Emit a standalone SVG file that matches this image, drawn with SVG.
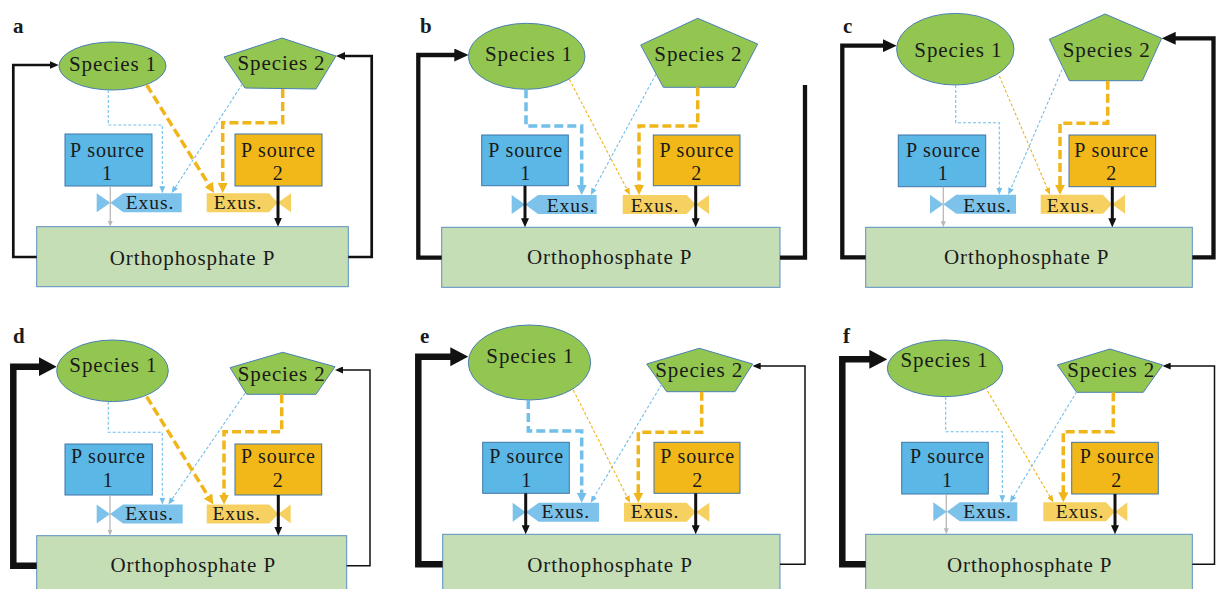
<svg xmlns="http://www.w3.org/2000/svg" width="1216" height="589" viewBox="0 0 1216 589">
<style>
.sp{fill:#92c650;stroke:#4a7fb5;stroke-width:1}
.ps1{fill:#5bb7e5;stroke:#3f76a8;stroke-width:1}
.ps2{fill:#f2b81a;stroke:#3f76a8;stroke-width:1}
.ex1{fill:#7dc2ea}
.ex2{fill:#f6d161}
.op{fill:#c6deb6;stroke:#5b8fc0;stroke-width:1}
text{font-family:'Liberation Serif','DejaVu Serif',serif;fill:#1a1a1a}
.t{font-size:21px;text-anchor:middle;letter-spacing:0.9px}
.t2{font-size:20px;text-anchor:middle;letter-spacing:0.9px}
.te{font-size:19.5px;text-anchor:middle;letter-spacing:0.9px}
.lbl{font-size:21px;font-weight:bold}
.c{fill:none}
.fb1{stroke:#111;stroke-width:2.7}
.fb2{stroke:#111;stroke-width:4.3}
.fb3{stroke:#111;stroke-width:6.5}
.fbt{stroke:#111;stroke-width:1.5}
.bk{stroke:#111;stroke-width:3}
.gr{stroke:#b8b8b8;stroke-width:1.3}
.bd{stroke:#72bfea;stroke-width:1.1;stroke-dasharray:3 2}
.yd{stroke:#f0b51b;stroke-width:1.1;stroke-dasharray:3 2}
.bD{stroke:#72bfea;stroke-width:3.5;stroke-dasharray:9 4}
.yD{stroke:#f0b51b;stroke-width:3.5;stroke-dasharray:9 4}
</style>
<defs>
<marker id="mS" viewBox="0 0 10 10" refX="2" refY="5" markerWidth="9" markerHeight="8" markerUnits="userSpaceOnUse" orient="auto" preserveAspectRatio="none"><path d="M0,0L10,5L0,10z" fill="#111"/></marker>
<marker id="mM" viewBox="0 0 10 10" refX="2" refY="5" markerWidth="14" markerHeight="13" markerUnits="userSpaceOnUse" orient="auto" preserveAspectRatio="none"><path d="M0,0L10,5L0,10z" fill="#111"/></marker>
<marker id="mL" viewBox="0 0 10 10" refX="2" refY="5" markerWidth="18" markerHeight="19" markerUnits="userSpaceOnUse" orient="auto" preserveAspectRatio="none"><path d="M0,0L10,5L0,10z" fill="#111"/></marker>
<marker id="mT" viewBox="0 0 10 10" refX="2" refY="5" markerWidth="8" markerHeight="7" markerUnits="userSpaceOnUse" orient="auto" preserveAspectRatio="none"><path d="M0,0L10,5L0,10z" fill="#111"/></marker>
<marker id="mG" viewBox="0 0 10 10" refX="2" refY="5" markerWidth="6" markerHeight="5" markerUnits="userSpaceOnUse" orient="auto" preserveAspectRatio="none"><path d="M0,0L10,5L0,10z" fill="#b8b8b8"/></marker>
<marker id="mb" viewBox="0 0 10 10" refX="2" refY="5" markerWidth="7" markerHeight="6" markerUnits="userSpaceOnUse" orient="auto" preserveAspectRatio="none"><path d="M0,0L10,5L0,10z" fill="#72bfea"/></marker>
<marker id="my" viewBox="0 0 10 10" refX="2" refY="5" markerWidth="7" markerHeight="6" markerUnits="userSpaceOnUse" orient="auto" preserveAspectRatio="none"><path d="M0,0L10,5L0,10z" fill="#f0b51b"/></marker>
<marker id="mB" viewBox="0 0 10 10" refX="2" refY="5" markerWidth="10" markerHeight="10" markerUnits="userSpaceOnUse" orient="auto" preserveAspectRatio="none"><path d="M0,0L10,5L0,10z" fill="#72bfea"/></marker>
<marker id="mY" viewBox="0 0 10 10" refX="2" refY="5" markerWidth="10" markerHeight="10" markerUnits="userSpaceOnUse" orient="auto" preserveAspectRatio="none"><path d="M0,0L10,5L0,10z" fill="#f0b51b"/></marker>
</defs>
<g font-family="Liberation Serif, DejaVu Serif, serif">

<!-- Panel a -->
<g id="a-label"><text class="lbl" x="13" y="33">a</text></g>
<g id="a-species1"><ellipse class="sp" cx="112.5" cy="66" rx="53.5" ry="24"/><text class="t" x="113" y="70.7">Species 1</text></g>
<g id="a-species2"><polygon class="sp" points="282,38 336,56 316,89 245,88 224,57"/><text class="t" x="281.5" y="70">Species 2</text></g>
<g id="a-psource1"><rect class="ps1" x="65" y="134" width="87" height="52"/><text class="t2" x="107.5" y="156.7">P source</text><text class="t2" x="107.5" y="180">1</text></g>
<g id="a-psource2"><rect class="ps2" x="235" y="134" width="87" height="52"/><text class="t2" x="278.3" y="156.7">P source</text><text class="t2" x="278.3" y="180">2</text></g>
<g id="a-exus1"><polygon class="ex1" points="96.7,193.3 110.3,202.8 96.7,212.3"/><polygon class="ex1" points="110.3,202.8 123.3,193.3 181.7,193.3 181.7,212.3 123.3,212.3"/><text class="te" x="150" y="209">Exus.</text></g>
<g id="a-exus2"><polygon class="ex2" points="206.7,193.3 269,193.3 277.7,202.8 269,212.3 206.7,212.3"/><polygon class="ex2" points="277.7,202.8 291,193.3 291,212.3"/><text class="te" x="238" y="209">Exus.</text></g>
<g id="a-ortho"><rect class="op" x="36.7" y="226.7" width="311.6" height="60"/><text class="t" x="192.5" y="265">Orthophosphate P</text></g>
<g id="a-connectors" class="c">
<path class="fb1" d="M36.7,257H13.3V65H51.5" marker-end="url(#mS)"/>
<path class="fb1" d="M348.3,257H371.7V56H343.2" marker-end="url(#mS)"/>
<path class="gr" d="M110.3,186V221.9" marker-end="url(#mG)"/>
<path class="bk" d="M278,186V219.5" marker-end="url(#mS)"/>
<path class="bd" d="M108.3,90V125H162.3V187.7" marker-end="url(#mb)"/>
<path class="bd" d="M242.3,84L174.7,188.3" marker-end="url(#mb)"/>
<path class="yD" d="M146.7,85L209.8,186.2" marker-end="url(#mY)"/>
<path class="yD" d="M282.7,89V122.7H222.7V185" marker-end="url(#mY)"/>
</g>

<!-- Panel b -->
<g id="b-label"><text class="lbl" x="420" y="33">b</text></g>
<g id="b-species1"><ellipse class="sp" cx="526.7" cy="56.3" rx="58.3" ry="33"/><text class="t" x="529" y="60.7">Species 1</text></g>
<g id="b-species2"><polygon class="sp" points="697.7,18.3 757.7,44 735,87.3 663.3,87.3 640.7,45"/><text class="t" x="698.3" y="60.7">Species 2</text></g>
<g id="b-psource1"><rect class="ps1" x="481.7" y="135" width="86.6" height="50.7"/><text class="t2" x="525.7" y="156.7">P source</text><text class="t2" x="525.7" y="180">1</text></g>
<g id="b-psource2"><rect class="ps2" x="653.3" y="135" width="86.7" height="50.7"/><text class="t2" x="696.8" y="156.7">P source</text><text class="t2" x="696.8" y="180">2</text></g>
<g id="b-exus1"><polygon class="ex1" points="511.7,195 525,204.5 511.7,214"/><polygon class="ex1" points="525,204.5 538,195 596.7,195 596.7,214 538,214"/><text class="te" x="571" y="211.5">Exus.</text></g>
<g id="b-exus2"><polygon class="ex2" points="622.7,195 686.7,195 695.7,204.5 686.7,214 622.7,214"/><polygon class="ex2" points="695.7,204.5 709,195 709,214"/><text class="te" x="655" y="211.5">Exus.</text></g>
<g id="b-ortho"><rect class="op" x="441.7" y="227.3" width="338.3" height="60"/><text class="t" x="609.7" y="264">Orthophosphate P</text></g>
<g id="b-connectors" class="c">
<path class="fb2" d="M441.7,257.7H418.3V55H457.1" marker-end="url(#mM)"/>
<path class="fb2" d="M780,257.7H805V85"/>
<path class="bk" d="M525,185.7V220.1" marker-end="url(#mS)"/>
<path class="bk" d="M695.7,185.7V220.1" marker-end="url(#mS)"/>
<path class="bD" d="M526,89.3V126H581.7V187" marker-end="url(#mB)"/>
<path class="bd" d="M656,74L593.4,190.1" marker-end="url(#mb)"/>
<path class="yd" d="M569.3,79.3L627.4,190" marker-end="url(#my)"/>
<path class="yD" d="M697.7,87.3V126H639V187" marker-end="url(#mY)"/>
</g>

<!-- Panel c -->
<g id="c-label"><text class="lbl" x="843" y="33">c</text></g>
<g id="c-species1"><ellipse class="sp" cx="955.3" cy="49.2" rx="58.7" ry="35.8"/><text class="t" x="958.3" y="56.7">Species 1</text></g>
<g id="c-species2"><polygon class="sp" points="1105,14 1161.7,38.3 1142.3,80.7 1069.3,80.7 1049.3,39.3"/><text class="t" x="1106.7" y="56.7">Species 2</text></g>
<g id="c-psource1"><rect class="ps1" x="898.3" y="135" width="87.4" height="51.7"/><text class="t2" x="943.3" y="156.7">P source</text><text class="t2" x="943.3" y="180">1</text></g>
<g id="c-psource2"><rect class="ps2" x="1069" y="135" width="86.7" height="51.7"/><text class="t2" x="1111.7" y="156.7">P source</text><text class="t2" x="1111.7" y="180">2</text></g>
<g id="c-exus1"><polygon class="ex1" points="930,194.8 943.3,204.3 930,213.8"/><polygon class="ex1" points="943.3,204.3 956.3,194.8 1016,194.8 1016,213.8 956.3,213.8"/><text class="te" x="987.5" y="211.5">Exus.</text></g>
<g id="c-exus2"><polygon class="ex2" points="1040.7,194.8 1103,194.8 1112,204.3 1103,213.8 1040.7,213.8"/><polygon class="ex2" points="1112,204.3 1125,194.8 1125,213.8"/><text class="te" x="1071" y="211.5">Exus.</text></g>
<g id="c-ortho"><rect class="op" x="865.7" y="227.3" width="326.6" height="60"/><text class="t" x="1026.7" y="264">Orthophosphate P</text></g>
<g id="c-connectors" class="c">
<path class="fb2" d="M865.7,257.3H842.3V45.7H885.5" marker-end="url(#mM)"/>
<path class="fb2" d="M1192.3,257.3H1213.5V38.3H1172.9" marker-end="url(#mM)"/>
<path class="gr" d="M943.3,186.7V222.5" marker-end="url(#mG)"/>
<path class="bk" d="M1112.3,186.7V220.1" marker-end="url(#mS)"/>
<path class="bd" d="M955.7,85V122.7H999.3V189.2" marker-end="url(#mb)"/>
<path class="bd" d="M1064,65L1010.5,189.7" marker-end="url(#mb)"/>
<path class="yd" d="M999.3,76L1047.8,189.6" marker-end="url(#my)"/>
<path class="yD" d="M1107.7,80.7V123.3H1060V186.8" marker-end="url(#mY)"/>
</g>

<!-- Panel d -->
<g id="d-label"><text class="lbl" x="13" y="343.3">d</text></g>
<g id="d-species1"><ellipse class="sp" cx="112.5" cy="370.8" rx="55.8" ry="30.8"/><text class="t" x="113.3" y="372.3">Species 1</text></g>
<g id="d-species2"><polygon class="sp" points="282.7,352.3 335,366.7 316,394.3 246.7,394.3 230,367.7"/><text class="t" x="281.7" y="381">Species 2</text></g>
<g id="d-psource1"><rect class="ps1" x="65" y="444" width="87.3" height="51"/><text class="t2" x="108.3" y="463.3">P source</text><text class="t2" x="108.3" y="486.7">1</text></g>
<g id="d-psource2"><rect class="ps2" x="235" y="444" width="86.7" height="51"/><text class="t2" x="278.3" y="463.3">P source</text><text class="t2" x="278.3" y="486.7">2</text></g>
<g id="d-exus1"><polygon class="ex1" points="96.7,504.5 110,514 96.7,523.5"/><polygon class="ex1" points="110,514 123,504.5 182.7,504.5 182.7,523.5 123,523.5"/><text class="te" x="149.5" y="520">Exus.</text></g>
<g id="d-exus2"><polygon class="ex2" points="206.7,504.5 269.3,504.5 278.3,514 269.3,523.5 206.7,523.5"/><polygon class="ex2" points="278.3,514 290.7,504.5 290.7,523.5"/><text class="te" x="236.7" y="520">Exus.</text></g>
<g id="d-ortho"><rect class="op" x="36.7" y="535.7" width="310" height="70"/><text class="t" x="193.3" y="571.7">Orthophosphate P</text></g>
<g id="d-connectors" class="c">
<path class="fb3" d="M36.7,565.7H13.3V366.7H42.3" marker-end="url(#mL)"/>
<path class="fbt" d="M346.7,565.7H370V370H341.4" marker-end="url(#mT)"/>
<path class="gr" d="M110,495V530.9" marker-end="url(#mG)"/>
<path class="bk" d="M278.3,495V528.5" marker-end="url(#mS)"/>
<path class="bd" d="M108.3,401.7V432.3H162.3V498.9" marker-end="url(#mb)"/>
<path class="bd" d="M245,393.3L171.5,499.9" marker-end="url(#mb)"/>
<path class="yD" d="M146.7,396.7L209.1,497.7" marker-end="url(#mY)"/>
<path class="yD" d="M281.7,394.3V431.7H224V496.5" marker-end="url(#mY)"/>
</g>

<!-- Panel e -->
<g id="e-label"><text class="lbl" x="420" y="343">e</text></g>
<g id="e-species1"><ellipse class="sp" cx="529.5" cy="362.5" rx="61.2" ry="37.5"/><text class="t" x="530.3" y="363.3">Species 1</text></g>
<g id="e-species2"><polygon class="sp" points="699.3,348.3 752.7,364 735,391.7 666.7,391.7 646.7,364"/><text class="t" x="699.2" y="376.7">Species 2</text></g>
<g id="e-psource1"><rect class="ps1" x="482.7" y="442.3" width="86.6" height="51"/><text class="t2" x="526.7" y="463.3">P source</text><text class="t2" x="526.7" y="486.7">1</text></g>
<g id="e-psource2"><rect class="ps2" x="654" y="442.3" width="86" height="51"/><text class="t2" x="697.7" y="463.3">P source</text><text class="t2" x="697.7" y="486.7">2</text></g>
<g id="e-exus1"><polygon class="ex1" points="512.7,502.7 525.7,512.2 512.7,521.7"/><polygon class="ex1" points="525.7,512.2 538.7,502.7 599,502.7 599,521.7 538.7,521.7"/><text class="te" x="565.8" y="518.3">Exus.</text></g>
<g id="e-exus2"><polygon class="ex2" points="624,502.7 686.7,502.7 695.7,512.2 686.7,521.7 624,521.7"/><polygon class="ex2" points="695.7,512.2 709.3,502.7 709.3,521.7"/><text class="te" x="655" y="518.3">Exus.</text></g>
<g id="e-ortho"><rect class="op" x="442.7" y="534.3" width="337.3" height="70"/><text class="t" x="610" y="571.7">Orthophosphate P</text></g>
<g id="e-connectors" class="c">
<path class="fb3" d="M442.7,564.3H418.3V356.7H453.9" marker-end="url(#mL)"/>
<path class="fbt" d="M780,564.3H805V366H759.1" marker-end="url(#mT)"/>
<path class="bk" d="M525.7,493.3V527.1" marker-end="url(#mS)"/>
<path class="bk" d="M695.7,493.3V527.1" marker-end="url(#mS)"/>
<path class="bD" d="M528.3,400V431H581.7V494.7" marker-end="url(#mB)"/>
<path class="bd" d="M661.7,384.3L593.6,497.9" marker-end="url(#mb)"/>
<path class="yd" d="M573.3,390L627.5,497.7" marker-end="url(#my)"/>
<path class="yD" d="M701.7,391.7V432.3H638.3V494.7" marker-end="url(#mY)"/>
</g>

<!-- Panel f -->
<g id="f-label"><text class="lbl" x="843" y="343">f</text></g>
<g id="f-species1"><ellipse class="sp" cx="945" cy="368.3" rx="57.7" ry="28.3"/><text class="t" x="944.5" y="366.7">Species 1</text></g>
<g id="f-species2"><polygon class="sp" points="1110,349 1162.7,365 1143.3,392.3 1076.7,392.3 1057.3,365"/><text class="t" x="1111.2" y="376.7">Species 2</text></g>
<g id="f-psource1"><rect class="ps1" x="901.7" y="442.3" width="86.6" height="51.7"/><text class="t2" x="947.5" y="463.3">P source</text><text class="t2" x="947.5" y="486.7">1</text></g>
<g id="f-psource2"><rect class="ps2" x="1071.7" y="442.3" width="86.6" height="51.7"/><text class="t2" x="1117.2" y="463.3">P source</text><text class="t2" x="1116.7" y="486.7">2</text></g>
<g id="f-exus1"><polygon class="ex1" points="933.3,502.3 946.7,511.8 933.3,521.3"/><polygon class="ex1" points="946.7,511.8 959.7,502.3 1017.3,502.3 1017.3,521.3 959.7,521.3"/><text class="te" x="987.5" y="517.5">Exus.</text></g>
<g id="f-exus2"><polygon class="ex2" points="1043.3,502.3 1106,502.3 1115,511.8 1106,521.3 1043.3,521.3"/><polygon class="ex2" points="1115,511.8 1127.3,502.3 1127.3,521.3"/><text class="te" x="1080" y="517.5">Exus.</text></g>
<g id="f-ortho"><rect class="op" x="865.7" y="534.3" width="326.6" height="70"/><text class="t" x="1029.7" y="571.7">Orthophosphate P</text></g>
<g id="f-connectors" class="c">
<path class="fb3" d="M865.7,564.3H842.3V359.3H872.9" marker-end="url(#mL)"/>
<path class="fbt" d="M1192.3,564.3H1214.5V366H1169.1" marker-end="url(#mT)"/>
<path class="gr" d="M946.3,494V529.5" marker-end="url(#mG)"/>
<path class="bk" d="M1115,494V527.1" marker-end="url(#mS)"/>
<path class="bd" d="M945.7,396.7V431.7H1002.3V496.7" marker-end="url(#mb)"/>
<path class="bd" d="M1076.7,391.7L1012.9,497.5" marker-end="url(#mb)"/>
<path class="yd" d="M985,386.7L1050.5,497.5" marker-end="url(#my)"/>
<path class="yD" d="M1113.3,392.3V431.7H1063.3V494.3" marker-end="url(#mY)"/>
</g>
</g>
</svg>
